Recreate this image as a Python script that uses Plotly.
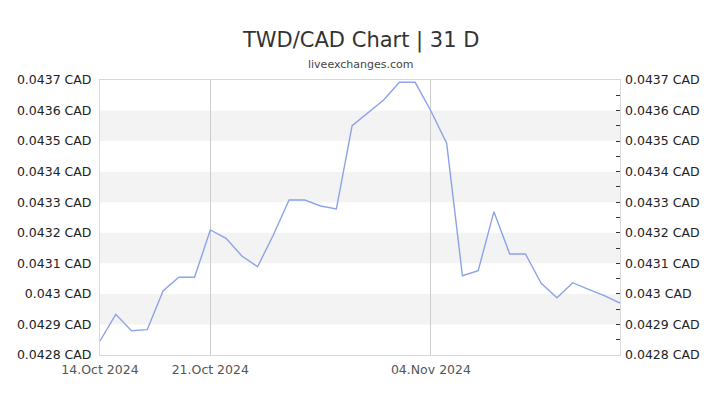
import plotly.graph_objects as go
import pandas as pd

dates = pd.date_range("2024-10-14", "2024-11-16", freq="D").strftime("%Y-%m-%d").tolist()
rates = [
    0.0428458, 0.0429332, 0.0428795, 0.0428828, 0.0430095, 0.0430543, 0.0430543,
    0.0432091, 0.0431819, 0.0431240, 0.0430890, 0.0431927, 0.0433073, 0.0433073,
    0.0432876, 0.0432778, 0.0435504, 0.0435920, 0.0436345, 0.0436925, 0.0436925,
    0.0435985, 0.0434928, 0.0430595, 0.0430759, 0.0432690, 0.0431306, 0.0431306,
    0.0430347, 0.0429875, 0.0430366, 0.0430150, 0.0429941, 0.0429702,
]
y_ticks = [0.0428, 0.0429, 0.0430, 0.0431, 0.0432, 0.0433, 0.0434, 0.0435, 0.0436, 0.0437]
y_labels = ["0.0428 CAD", "0.0429 CAD", "0.043 CAD", "0.0431 CAD", "0.0432 CAD",
            "0.0433 CAD", "0.0434 CAD", "0.0435 CAD", "0.0436 CAD", "0.0437 CAD"]
x_ticks = ["2024-10-14", "2024-10-21", "2024-11-04"]
x_labels = ["14.Oct 2024", "21.Oct 2024", "04.Nov 2024"]
title = "TWD/CAD Chart | 31 D"
subtitle = "liveexchanges.com"

FONT = "DejaVu Sans"
yr = [y_ticks[0], y_ticks[-1]]

fig = go.Figure()
fig.add_trace(go.Scatter(x=dates, y=rates, mode="lines",
                         line=dict(color="#8ca3e8", width=1.4),
                         hoverinfo="skip", showlegend=False))
fig.add_trace(go.Scatter(x=dates, y=rates, mode="lines", yaxis="y2",
                         line=dict(color="rgba(0,0,0,0)", width=0),
                         hoverinfo="skip", showlegend=False))

shapes = []
for i in range(1, len(y_ticks) - 1, 2):
    shapes.append(dict(type="rect", xref="paper", yref="y", x0=0, x1=1,
                       y0=y_ticks[i], y1=y_ticks[i + 1],
                       fillcolor="#f3f3f3", line=dict(width=0), layer="below"))

fig.update_layout(
    width=720, height=405,
    margin=dict(l=100, r=100, t=80, b=50, autoexpand=False),
    paper_bgcolor="white", plot_bgcolor="white",
    font=dict(family=FONT, size=12, color="#222"),
    shapes=shapes,
    xaxis=dict(
        type="date", range=[dates[0], dates[-1]],
        tickvals=x_ticks, ticktext=x_labels,
        tickfont=dict(size=12.5, color="#555"),
        ticklabelstandoff=3,
        showgrid=True, gridcolor="#cccccc", gridwidth=1,
        showline=True, linecolor="#d8d8d8", linewidth=1, mirror=True,
        ticks="", zeroline=False, fixedrange=True,
    ),
    yaxis=dict(
        range=yr, tickvals=y_ticks, ticktext=y_labels,
        tickfont=dict(size=12.5, color="#222"),
        ticklabelstandoff=5,
        showgrid=False, zeroline=False,
        showline=True, linecolor="#d8d8d8", linewidth=1, mirror=True,
        ticks="", fixedrange=True,
    ),
    yaxis2=dict(
        overlaying="y", side="right",
        range=yr, tickvals=y_ticks, ticktext=y_labels,
        tickfont=dict(size=12.5, color="#222"),
        ticklabelstandoff=4,
        showgrid=False, zeroline=False, showline=False,
        ticks="inside", ticklen=4, tickwidth=1, tickcolor="#333",
        minor=dict(ticks="inside", ticklen=4, tickwidth=1, tickcolor="#333",
                   dtick=0.00005, tick0=0.0428, showgrid=False),
        fixedrange=True,
    ),
    annotations=[
        dict(text=title, xref="paper", yref="paper", x=0.5, y=1,
             xanchor="center", yanchor="middle", yshift=40,
             showarrow=False, font=dict(size=21, color="#333", family=FONT)),
        dict(text=subtitle, xref="paper", yref="paper", x=0.5, y=1,
             xanchor="center", yanchor="middle", yshift=16,
             showarrow=False, font=dict(size=11, color="#444", family=FONT)),
    ],
)

fig.write_html("out.html", config={"displayModeBar": False},
               post_script="document.body.style.margin='0';")
